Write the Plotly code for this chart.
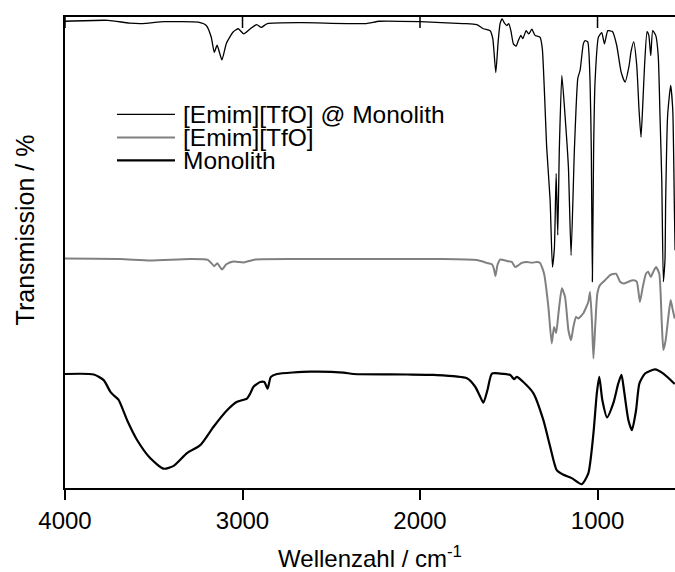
import plotly.graph_objects as go

# ---- data (wavenumber in cm^-1, transmission in %, offset spectra) ----
comp_wn = [4000, 3757, 3637, 3564, 3440, 3249, 3204, 3176, 3159, 3143, 3116, 3091, 3053, 3024, 2993,
           2956, 2920, 2895, 2860, 2665, 2303, 2230, 1999, 1757, 1680, 1643, 1605, 1590, 1573, 1560,
           1549, 1537, 1526, 1511, 1500, 1488, 1474, 1459, 1446, 1432, 1421, 1402, 1387, 1370, 1352,
           1324, 1311, 1286, 1267, 1254, 1243, 1233, 1224, 1215, 1201, 1183, 1164, 1149, 1130, 1111,
           1098, 1080, 1070, 1055, 1042, 1035, 1029, 1022, 1014, 995, 976, 961, 942, 916, 892,
           867, 845, 822, 811, 796, 779, 766, 755, 744, 735, 721, 711, 700, 689, 672,
           658, 648, 638, 629, 620, 616, 605, 588, 576, 567, 563]
comp_T = [99.1, 99.3, 98.7, 98.6, 99.0, 98.9, 98.2, 95.7, 92.5, 94.0, 90.9, 94.4, 96.8, 97.5, 96.4,
          97.5, 98.4, 97.8, 98.6, 98.8, 98.6, 99.1, 99.0, 98.6, 98.4, 97.5, 97.1, 95.4, 88.2, 94.7,
          98.6, 99.6, 98.8, 98.2, 98.6, 97.1, 94.3, 93.8, 95.0, 96.1, 95.4, 97.1, 96.4, 97.4, 96.1,
          95.7, 93.3, 72.1, 61.1, 46.9, 50.9, 66.8, 53.7, 72.1, 87.6, 79.1, 68.1, 49.4, 72.1, 87.0,
          88.7, 94.3, 95.0, 94.7, 86.2, 71.7, 43.8, 71.7, 86.2, 95.7, 96.7, 94.3, 97.1, 96.9, 94.0,
          88.3, 86.2, 89.7, 92.7, 94.7, 89.7, 80.2, 74.5, 82.3, 89.7, 96.9, 96.1, 91.8, 97.1, 96.1,
          91.8, 79.1, 65.3, 43.8, 48.4, 61.1, 79.1, 85.5, 80.2, 59.4, 50.5]

il_wn = [4000, 3688, 3519, 3294, 3193, 3159, 3142, 3116, 3091, 3052, 2993, 2928, 2675, 2112, 1887,
         1680, 1624, 1595, 1585, 1575, 1564, 1549, 1511, 1483, 1464, 1446, 1427, 1398, 1370, 1342,
         1324, 1301, 1277, 1258, 1245, 1233, 1220, 1201, 1183, 1164, 1149, 1136, 1121, 1108, 1080,
         1052, 1042, 1031, 1023, 1012, 1001, 986, 958, 929, 896, 873, 851, 826, 798, 779,
         761, 745, 727, 714, 700, 686, 670, 652, 638, 629, 616, 601, 588, 576, 565]
il_T = [48.7, 48.6, 48.3, 48.6, 48.4, 47.1, 47.7, 46.4, 47.5, 48.1, 47.9, 48.5, 48.6, 48.6, 48.6,
        48.4, 47.8, 47.5, 46.7, 45.0, 47.3, 48.5, 48.2, 48.0, 46.9, 47.3, 47.8, 48.0, 47.8, 48.0,
        47.8, 45.5, 38.5, 30.7, 34.2, 32.9, 37.1, 42.4, 40.6, 33.5, 31.4, 34.2, 36.3, 36.0, 37.1,
        39.5, 41.6, 35.0, 27.5, 35.0, 41.3, 43.1, 44.1, 45.2, 45.5, 43.8, 43.4, 43.8, 44.1, 43.8,
        39.5, 42.7, 45.5, 45.9, 44.8, 45.9, 46.9, 45.5, 35.0, 29.3, 31.4, 36.3, 39.9, 37.8, 36.0]

mono_wn = [4000, 3838, 3782, 3744, 3726, 3698, 3650, 3594, 3519, 3444, 3388, 3313, 3238, 3163, 3087,
           3031, 2975, 2956, 2938, 2900, 2877, 2859, 2840, 2806, 2618, 2431, 2375, 2074, 1924, 1736,
           1689, 1661, 1643, 1620, 1595, 1549, 1492, 1470, 1455, 1418, 1361, 1305, 1267, 1230, 1192,
           1145, 1089, 1052, 1023, 1004, 990, 973, 946, 911, 883, 865, 851, 826, 806, 783,
           764, 732, 676, 629, 565]
mono_T = [24.2, 24.1, 22.9, 20.4, 19.7, 18.7, 14.4, 10.2, 6.3, 4.1, 4.7, 7.4, 9.1, 13.0, 16.5,
          18.3, 19.0, 20.1, 21.5, 22.5, 22.5, 21.1, 23.6, 24.2, 24.7, 24.5, 24.2, 24.1, 24.0, 23.3,
          21.5, 19.4, 18.1, 20.8, 24.3, 24.3, 24.0, 23.1, 23.6, 22.5, 20.1, 14.4, 8.8, 3.8, 2.8,
          2.1, 0.8, 3.1, 11.6, 20.1, 23.6, 18.7, 15.0, 18.0, 22.2, 24.0, 20.8, 14.4, 12.3, 16.5,
          22.2, 24.3, 25.2, 24.3, 22.1]

names = ["[Emim][TfO] @ Monolith", "[Emim][TfO]", "Monolith"]
tick_vals = [4000, 3000, 2000, 1000]
tick_text = ["4000", "3000", "2000", "1000"]
x_range = [4000, 563.5]
y_range = [0, 100]

FONT = "Arial, Liberation Sans, Helvetica, sans-serif"
styles = [dict(color="#000000", width=1.3),
          dict(color="#808080", width=2.0),
          dict(color="#000000", width=2.2)]

fig = go.Figure()
fig.add_trace(go.Scatter(x=comp_wn, y=comp_T, mode="lines", name=names[0],
                         line=dict(**styles[0], shape="spline", smoothing=0.5)))
fig.add_trace(go.Scatter(x=il_wn, y=il_T, mode="lines", name=names[1],
                         line=dict(**styles[1], shape="spline", smoothing=0.5)))
fig.add_trace(go.Scatter(x=mono_wn, y=mono_T, mode="lines", name=names[2],
                         line=dict(**styles[2], shape="spline", smoothing=0.6)))

shapes, annotations = [], []

# inward-pointing tick marks along the top frame, at the same tick values
PLOT_H = 572 - 16.5 - 84
for tv in tick_vals:
    shapes.append(dict(type="line", xref="x", yref="paper", x0=tv, x1=tv,
                       y0=1, y1=1 - 11 / PLOT_H, line=dict(color="black", width=1.5)))

# compact legend drawn in the top-left of the plot (paper coordinates)
leg_x0, leg_x1, leg_tx = 0.0852, 0.1803, 0.1918
leg_rows = [0.7932, 0.7444, 0.6957]
for nm, st, yy in zip(names, styles, leg_rows):
    shapes.append(dict(type="line", xref="paper", yref="paper", x0=leg_x0, x1=leg_x1,
                       y0=yy, y1=yy, line=dict(color=st["color"], width=st["width"])))
    annotations.append(dict(text=nm, xref="paper", yref="paper", x=leg_tx, y=yy,
                            xanchor="left", yanchor="middle", showarrow=False, borderpad=0,
                            font=dict(family=FONT, size=24.5, color="black")))
# y-axis title
annotations.append(dict(text="Transmission / %", xref="paper", yref="paper",
                        x=-0.0656, y=0.549, xanchor="center", yanchor="middle",
                        textangle=-90, showarrow=False,
                        font=dict(family=FONT, size=25, color="black")))

fig.update_layout(
    width=675, height=572,
    margin=dict(l=65, r=0, t=16.5, b=84),
    paper_bgcolor="white", plot_bgcolor="white",
    font=dict(family=FONT, size=24, color="black"),
    showlegend=False,
    shapes=shapes, annotations=annotations,
    xaxis=dict(range=x_range, tickmode="array", tickvals=tick_vals, ticktext=tick_text,
               ticks="outside", ticklen=10, tickwidth=1.5, tickcolor="black",
               showline=True, linewidth=1.5, linecolor="black", mirror=True,
               showgrid=False, zeroline=False, automargin=False,
               tickfont=dict(family=FONT, size=24, color="black"),
               title=dict(text="Wellenzahl / cm<sup>-1</sup>", standoff=31,
                          font=dict(family=FONT, size=24, color="black"))),
    yaxis=dict(range=y_range, showticklabels=False, ticks="",
               showline=True, linewidth=1.5, linecolor="black", mirror=False,
               showgrid=False, zeroline=False, automargin=False),
)

fig.write_html("out.html")
